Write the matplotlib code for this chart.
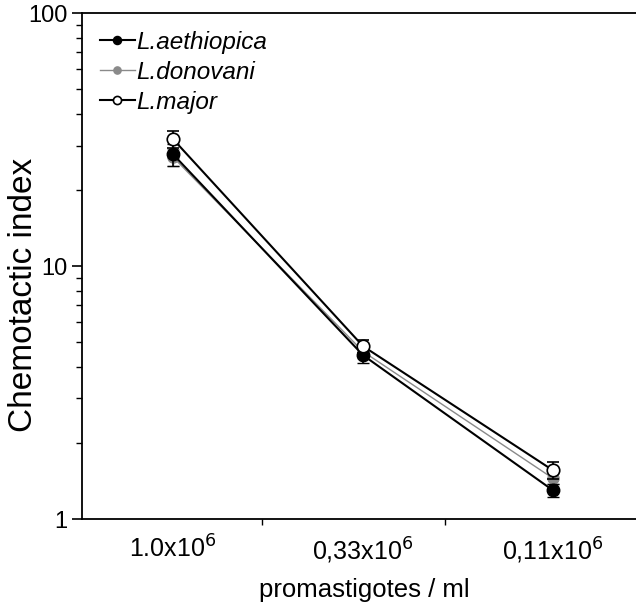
import matplotlib
matplotlib.use("Agg")
import matplotlib.pyplot as plt
from matplotlib.ticker import FixedLocator, NullFormatter, LogLocator

plt.rcParams['font.family'] = ['Liberation Sans', 'DejaVu Sans']

categories = ["1.0x10$^{6}$", "0,33x10$^{6}$", "0,11x10$^{6}$"]
aethiopica = [27.7, 4.45, 1.30]
aethiopica_err = [2.8, 0.3, 0.08]
donovani = [27.0, 4.6, 1.45]
donovani_err = [2.0, 0.25, 0.07]
major = [31.8, 4.83, 1.56]
major_err = [2.5, 0.3, 0.12]

fig = plt.figure(figsize=(6.36, 6.03), dpi=100)
ax = fig.add_axes([0.129, 0.139, 0.871, 0.839])
x = list(range(len(categories)))

e1 = ax.errorbar(x, aethiopica, yerr=aethiopica_err, color='black', lw=1.5, marker='o',
                 ms=9, mfc='black', mec='black', capsize=4, elinewidth=1.2, zorder=3)
e2 = ax.errorbar(x, donovani, yerr=donovani_err, color='#8a8a8a', lw=1.0, marker='o',
                 ms=8, mfc='#8a8a8a', mec='#8a8a8a', capsize=4, elinewidth=1.0, zorder=2)
e3 = ax.errorbar(x, major, yerr=major_err, color='black', lw=1.5, marker='o',
                 ms=9, mfc='white', mec='black', mew=1.2, capsize=4, elinewidth=1.2, zorder=4)

ax.set_yscale('log')
ax.set_ylim(1, 100)
ax.set_xlim(-0.479, 2.437)
ax.set_yticks([1, 10, 100])
ax.set_yticklabels(['1', '10', '100'], fontsize=17)
ax.yaxis.set_minor_locator(LogLocator(base=10, subs=range(2, 10)))
ax.yaxis.set_minor_formatter(NullFormatter())
ax.tick_params(axis='y', which='major', length=7, width=1.2, direction='out')
ax.tick_params(axis='y', which='minor', length=4, width=1.0, direction='out')

ax.set_xticks(x)
ax.set_xticklabels(categories, fontsize=18)
ax.tick_params(axis='x', which='major', length=0, pad=12)
ax.xaxis.set_minor_locator(FixedLocator([0.47, 1.43]))
ax.tick_params(axis='x', which='minor', length=4, width=1.0, direction='out')

ax.spines['right'].set_visible(False)
for s in ['left', 'top', 'bottom']:
    ax.spines[s].set_linewidth(1.3)

ax.set_ylabel('Chemotactic index', fontsize=24, va='center')
ax.yaxis.set_label_coords(-0.105, 0.443)
ax.set_xlabel('promastigotes / ml', fontsize=18.5, va='center')
ax.xaxis.set_label_coords(0.509, -0.14)

leg = ax.legend([e1.lines[0], e2.lines[0], e3.lines[0]],
                ['L.aethiopica', 'L.donovani', 'L.major'],
                loc='upper left', frameon=False, prop={'style': 'italic', 'size': 17.5},
                handlelength=1.45, handletextpad=0.05, labelspacing=0.28, markerscale=0.65,
                borderaxespad=0, borderpad=0, bbox_to_anchor=(0.032, 0.965))

fig.savefig('out.png', dpi=100)
